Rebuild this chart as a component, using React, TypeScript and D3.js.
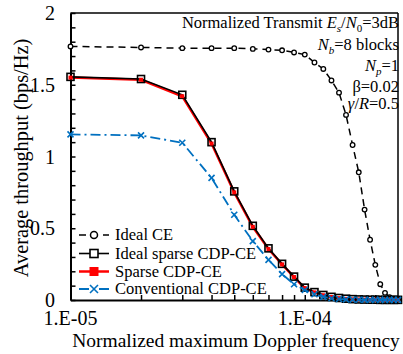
import React, { useEffect, useRef } from 'react';
import * as d3 from 'd3';

// normalized max Doppler frequency (x values)
const doppler = [
  1e-5, 2e-5, 3e-5, 4e-5, 5e-5, 6e-5, 7e-5, 8e-5, 9e-5, 1e-4,
  1.1e-4, 1.2e-4, 1.3e-4, 1.4e-4, 1.5e-4, 1.6e-4, 1.7e-4, 1.8e-4, 1.9e-4, 2e-4,
  2.1e-4, 2.2e-4, 2.3e-4, 2.4e-4, 2.5e-4,
];

const idealCE = [
  1.767, 1.76, 1.755, 1.755, 1.755, 1.75, 1.745, 1.74, 1.725, 1.71,
  1.655, 1.61, 1.53, 1.445, 1.29, 1.08, 0.89, 0.63, 0.42, 0.245,
  0.11, 0.05, 0.02, 0.007, 0.003,
];

const idealSparse = [
  1.555, 1.54, 1.43, 1.1, 0.757, 0.517, 0.36, 0.252, 0.163, 0.086,
  0.055, 0.035, 0.022, 0.014, 0.009, 0.006, 0.004, 0.003, 0.002, 0.002,
  0.001, 0.001, 0.001, 0.001, 0.001,
];

const sparse = [
  1.55, 1.535, 1.42, 1.09, 0.75, 0.51, 0.355, 0.248, 0.16, 0.083,
  0.053, 0.033, 0.021, 0.013, 0.008, 0.005, 0.004, 0.003, 0.002, 0.002,
  0.001, 0.001, 0.001, 0.001, 0.001,
];

const conventional = [
  1.154, 1.147, 1.096, 0.851, 0.594, 0.41, 0.28, 0.18, 0.11, 0.07,
  0.04, 0.022, 0.012, 0.007, 0.004, 0.003, 0.002, 0.001, 0.001, 0.001,
  0.001, 0.001, 0.001, 0.001, 0.001,
];

const legendLabels = ['Ideal CE', 'Ideal sparse CDP-CE', 'Sparse CDP-CE', 'Conventional CDP-CE'];
const xTickLabels = ['1.E-05', '1.E-04'];
const yTickLabels = ['0', '0.5', '1', '1.5', '2'];

const BLUE = '#0070c0';
const FONT = 'Liberation Serif';

export default function App() {
  const svgRef = useRef<SVGSVGElement>(null);

  useEffect(() => {
    const svg = d3.select(svgRef.current);
    svg.selectAll('*').remove();

    const left = 70.5, right = 398, top = 13, bottom = 300;

    const xScale = d3.scaleLog().domain([1e-5, 2.5e-4]).range([left, right]);
    const yScale = d3.scaleLinear().domain([0, 2]).range([bottom, top]);

    const g = svg.append('g').attr('font-family', FONT);

    // frame (top / right)
    g.append('line').attr('x1', left).attr('x2', right).attr('y1', top).attr('y2', top)
      .attr('stroke', 'black').attr('stroke-width', 1.5);
    g.append('line').attr('x1', right).attr('x2', right).attr('y1', top).attr('y2', bottom)
      .attr('stroke', 'black').attr('stroke-width', 1.5);

    // y axis, ticks every 0.1 pointing inward
    const yTicks = d3.range(0, 21).map(i => i / 10);
    const yAxis = d3.axisLeft(yScale)
      .tickValues(yTicks)
      .tickSizeInner(-5)
      .tickSizeOuter(0)
      .tickFormat(() => '');
    const yAxisG = g.append('g').attr('transform', `translate(${left},0)`).call(yAxis);
    yAxisG.select('.domain').attr('stroke-width', 2);
    yAxisG.selectAll('.tick line').attr('stroke-width', 1.5);

    yTickLabels.forEach(t => {
      g.append('text')
        .attr('x', 55)
        .attr('y', yScale(+t) + 7)
        .attr('text-anchor', 'end')
        .attr('font-size', 20)
        .text(t);
    });

    // x axis, log minor ticks pointing inward
    const xTicks = [2e-5, 3e-5, 4e-5, 5e-5, 6e-5, 7e-5, 8e-5, 9e-5, 1e-4, 2e-4];
    const xAxis = d3.axisBottom(xScale)
      .tickValues(xTicks)
      .tickSizeInner(-5)
      .tickSizeOuter(0)
      .tickFormat(() => '');
    const xAxisG = g.append('g').attr('transform', `translate(0,${bottom})`).call(xAxis);
    xAxisG.select('.domain').attr('stroke-width', 2);
    xAxisG.selectAll('.tick line').attr('stroke-width', 1.5);

    [1e-5, 1e-4].forEach((v, i) => {
      g.append('text')
        .attr('x', xScale(v))
        .attr('y', 325)
        .attr('text-anchor', 'middle')
        .attr('font-size', 20)
        .text(xTickLabels[i]);
    });

    // axis titles
    g.append('text')
      .attr('x', 236)
      .attr('y', 347)
      .attr('text-anchor', 'middle')
      .attr('font-size', 19.5)
      .text('Normalized maximum Doppler frequency');

    g.append('text')
      .attr('transform', `translate(28,158) rotate(-90)`)
      .attr('text-anchor', 'middle')
      .attr('font-size', 20.4)
      .text('Average throughput (bps/Hz)');

    const pts = (ys: number[]) => doppler.map((d, i) => [xScale(d), yScale(ys[i])] as [number, number]);
    const line = d3.line();

    // Ideal CE
    g.append('path').attr('d', line(pts(idealCE)))
      .attr('fill', 'none').attr('stroke', 'black').attr('stroke-width', 1.5)
      .attr('stroke-dasharray', '7 5');
    g.selectAll('.ce').data(pts(idealCE)).enter().append('circle')
      .attr('cx', d => d[0]).attr('cy', d => d[1]).attr('r', 2.3)
      .attr('fill', 'white').attr('stroke', 'black').attr('stroke-width', 1.3);

    // Sparse CDP-CE (red)
    g.append('path').attr('d', line(pts(sparse)))
      .attr('fill', 'none').attr('stroke', 'red').attr('stroke-width', 2.5);

    // Ideal sparse CDP-CE (black)
    g.append('path').attr('d', line(pts(idealSparse)))
      .attr('fill', 'none').attr('stroke', 'black').attr('stroke-width', 1.6);
    g.selectAll('.sq').data(pts(idealSparse)).enter().append('rect')
      .attr('x', d => d[0] - 3.5).attr('y', d => d[1] - 3.5)
      .attr('width', 7).attr('height', 7)
      .attr('fill', 'none').attr('stroke', 'black').attr('stroke-width', 1.6);
    g.selectAll('.rsq').data(pts(sparse)).enter().append('rect')
      .attr('x', d => d[0] - 2).attr('y', d => d[1] - 2)
      .attr('width', 4).attr('height', 4)
      .attr('fill', 'red');

    // Conventional CDP-CE (blue)
    g.append('path').attr('d', line(pts(conventional)))
      .attr('fill', 'none').attr('stroke', BLUE).attr('stroke-width', 1.8)
      .attr('stroke-dasharray', '10 4 2 4');
    const cross = (sel: any, s: number) => sel
      .attr('d', (d: [number, number]) =>
        `M${d[0] - s},${d[1] - s}L${d[0] + s},${d[1] + s}M${d[0] - s},${d[1] + s}L${d[0] + s},${d[1] - s}`)
      .attr('stroke', BLUE).attr('stroke-width', 1.6).attr('fill', 'none');
    cross(g.selectAll('.cx').data(pts(conventional)).enter().append('path'), 3);

    // legend
    const lx0 = 79, lx1 = 109, lm = 94, tx = 115;
    const rows = [240, 258.5, 276.5, 294];
    const my = (i: number) => rows[i] - 5;

    g.append('line').attr('x1', lx0).attr('x2', lx1).attr('y1', my(0)).attr('y2', my(0))
      .attr('stroke', 'black').attr('stroke-width', 1.5).attr('stroke-dasharray', '7 5');
    g.append('circle').attr('cx', lm).attr('cy', my(0)).attr('r', 3.5)
      .attr('fill', 'white').attr('stroke', 'black').attr('stroke-width', 1.5);

    g.append('line').attr('x1', lx0).attr('x2', lx1).attr('y1', my(1)).attr('y2', my(1))
      .attr('stroke', 'black').attr('stroke-width', 1.6);
    g.append('rect').attr('x', lm - 4).attr('y', my(1) - 4).attr('width', 8).attr('height', 8)
      .attr('fill', 'white').attr('stroke', 'black').attr('stroke-width', 1.6);

    g.append('line').attr('x1', lx0).attr('x2', lx1).attr('y1', my(2)).attr('y2', my(2))
      .attr('stroke', 'red').attr('stroke-width', 2.5);
    g.append('rect').attr('x', lm - 4.5).attr('y', my(2) - 4.5).attr('width', 9).attr('height', 9)
      .attr('fill', 'red');

    g.append('line').attr('x1', lx0).attr('x2', lx1).attr('y1', my(3)).attr('y2', my(3))
      .attr('stroke', BLUE).attr('stroke-width', 1.8).attr('stroke-dasharray', '10 4 2 4');
    cross(g.append('path').datum([lm, my(3)]), 4);

    legendLabels.forEach((l, i) => {
      g.append('text').attr('x', tx).attr('y', rows[i])
        .attr('font-size', 16.5).text(l);
    });

    // annotation
    const ax = 399;
    const ann = g.append('g').attr('font-size', 16.5).attr('text-anchor', 'end');
    const t1 = ann.append('text').attr('x', ax).attr('y', 28);
    t1.append('tspan').text('Normalized Transmit ');
    t1.append('tspan').attr('font-style', 'italic').text('E');
    t1.append('tspan').attr('font-style', 'italic').attr('font-size', 11).attr('dy', 4).text('s');
    t1.append('tspan').attr('dy', -4).text('/');
    t1.append('tspan').attr('font-style', 'italic').text('N');
    t1.append('tspan').attr('font-size', 11).attr('dy', 4).text('0');
    t1.append('tspan').attr('dy', -4).text('=3dB');

    const t2 = ann.append('text').attr('x', ax).attr('y', 49.5);
    t2.append('tspan').attr('font-style', 'italic').text('N');
    t2.append('tspan').attr('font-style', 'italic').attr('font-size', 11).attr('dy', 4).text('b');
    t2.append('tspan').attr('dy', -4).text('=8 blocks');

    const t3 = ann.append('text').attr('x', ax).attr('y', 71);
    t3.append('tspan').attr('font-style', 'italic').text('N');
    t3.append('tspan').attr('font-style', 'italic').attr('font-size', 11).attr('dy', 4).text('p');
    t3.append('tspan').attr('dy', -4).text('=1');

    ann.append('text').attr('x', ax).attr('y', 92).text('β=0.02');

    const t5 = ann.append('text').attr('x', ax).attr('y', 109);
    t5.append('tspan').attr('font-style', 'italic').text('γ');
    t5.append('tspan').text('/');
    t5.append('tspan').attr('font-style', 'italic').text('R');
    t5.append('tspan').text('=0.5');
  }, []);

  return (
    <svg
      ref={svgRef}
      width={403}
      height={354}
      style={{ position: 'absolute', left: 0, top: 0, background: 'white' }}
    />
  );
}
